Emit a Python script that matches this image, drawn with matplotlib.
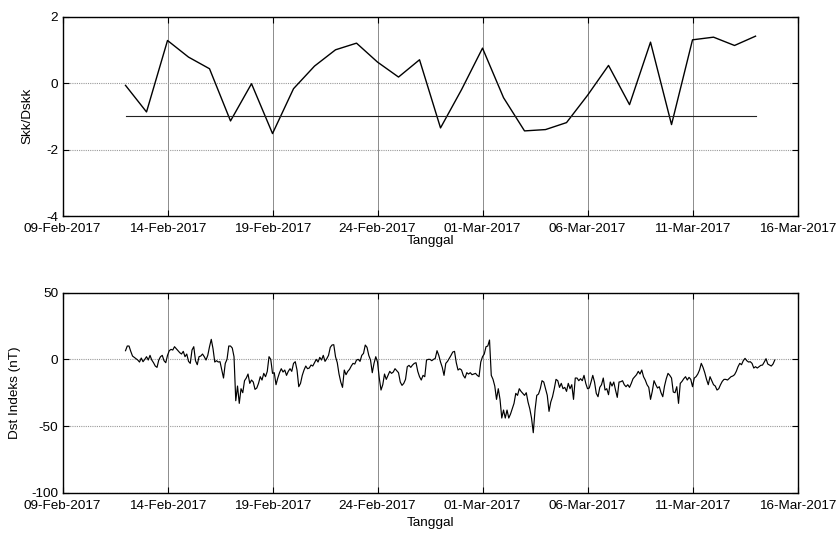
import matplotlib
matplotlib.use('Agg')
import matplotlib.pyplot as plt
import pandas as pd

plt.rcParams['font.family'] = ['Liberation Sans', 'DejaVu Sans']

# ---------------- data ----------------
skk_start = '2017-02-12'
skk_values = [-0.07, -0.87, 1.28, 0.78, 0.43, -1.14, -0.02, -1.52, -0.17, 0.51,
              1.0, 1.2, 0.63, 0.18, 0.70, -1.35, -0.2, 1.05, -0.44, -1.44,
              -1.40, -1.19, -0.37, 0.53, -0.65, 1.23, -1.25, 1.30, 1.38, 1.13, 1.41]
threshold = -1.0

dst_start = '2017-02-12'
dst_step = '2h'
dst_feb12_18 = [
    6.5, 10, 10, 6, 2.5, 1.5, 0.5, -0.5, -2, 1, -1.75, 0,
    2, -0.5, 3, -0.5, -2.5, -5, -6, -0.5, 2, 3, -1, -2.5,
    3, 6.5, 7.5, 7, 9.5, 8, 6.5, 5, 4, 6, 2, 4,
    -1.5, -3, 7, 9.5, -1, -4, 2, 2.5, 4, 2, -0.5, 3,
    9.5, 15, 8, -2, -1, -2, -1.75, -8, -14, -3, 0, 10,
    10, 8.5, 2, -31, -20, -33, -22, -25, -16, -14, -11, -18,
    -15.5, -17, -22.5, -21.5, -18, -13, -15.5, -10.5, -13, -9, 2, 0,
]
dst_feb19_25 = [
    -10.5, -10, -19, -14, -10, -7, -9.5, -8, -12, -9, -7, -9,
    -3, -1.75, -8, -20.5, -18, -12, -8, -5, -7, -6.5, -4.25, -5,
    -2.5, 0, -2, 1.5, -0.5, 3, -1.5, 0.5, 3, 9, 10.75, 11,
    2, -2.5, -11, -17, -21, -8, -11.5, -9, -7.5, -5, -3, -3.5,
    -0.5, 0, -1.5, 3, 4.5, 10.75, 9, 3, -0.5, -10, -3, 2,
    -2, -14, -23, -19, -11, -15, -12, -9, -10.5, -9.5, -7, -8.5,
    -10, -17, -19.5, -18, -15, -5.5, -4.5, -6, -4.25, -3, -2.5, -9,
]
dst_feb26_mar04 = [
    -13, -15.5, -12, -13, -0.5, 0, 0, -1, 0, 0.75, 6.5, 3,
    -2, -6, -12, -3, -1.5, 0.75, 3, 5.5, 6, -2.5, -8, -7,
    -8, -12, -14, -10, -11, -10, -11.5, -11, -10.5, -12, -13, -2,
    2, 4, 9.5, 10, 14.5, -12, -15, -20, -30, -22, -30, -44,
    -38, -44, -38, -44, -41, -37, -33, -25.5, -27, -22, -24, -25.5,
    -27, -25, -32, -37, -44, -55, -38, -27, -26, -22, -16, -17,
    -22, -27, -39, -32, -28, -22, -15, -16, -21, -18, -22, -21,
]
dst_mar05_11 = [
    -24, -18, -22, -19, -30, -14, -14, -16, -14.5, -16, -12, -18,
    -22, -21.5, -17, -12, -17, -25.5, -28, -21, -19, -14, -23, -22,
    -26.5, -17, -20, -17, -23, -28.5, -17, -16.75, -16, -19, -20.5, -19,
    -21, -18, -14.5, -13, -11.5, -9, -11, -8, -13, -15.5, -19, -21,
    -30, -24, -16, -19, -21.5, -20.5, -25, -28, -20, -14.5, -10.5, -12,
    -14, -24.5, -25, -20.5, -33, -18, -16.5, -14.5, -13, -15.5, -13.5, -15,
    -20.5, -14, -13, -11, -8, -3, -6, -10, -15, -19, -13, -16,
]
dst_mar12_14 = [
    -19, -20, -23, -22, -19, -16.5, -15, -15, -15.5, -14.25, -13, -12.5,
    -11.5, -9, -5.5, -3, -4, -1, 0.75, -1, -2, -1.75, -3, -6.5,
    -5.5, -6.5, -5.5, -4.5, -4.25, -2, 0.5, -3.5, -4.25, -5, -3.5, -0.5,
]

x_start = '2017-02-09'
x_end = '2017-03-16'
x_tick_labels = ['09-Feb-2017', '14-Feb-2017', '19-Feb-2017', '24-Feb-2017',
                 '01-Mar-2017', '06-Mar-2017', '11-Mar-2017', '16-Mar-2017']

# ---------------- build ----------------
skk_dates = pd.date_range(skk_start, periods=len(skk_values), freq='D')
dst_values = dst_feb12_18 + dst_feb19_25 + dst_feb26_mar04 + dst_mar05_11 + dst_mar12_14
dst_times = pd.date_range(dst_start, periods=len(dst_values), freq=dst_step)
tick_dates = pd.to_datetime(x_tick_labels, format='%d-%b-%Y')

fig = plt.figure(figsize=(8.38, 5.34), dpi=100)
ax1 = fig.add_axes([0.0746, 0.5955, 0.8771, 0.3735])
ax2 = fig.add_axes([0.0746, 0.0773, 0.8771, 0.3746])

FS = 9.7

def style(ax, yticks, ylabel, xlabel_pad, ylabel_x):
    ax.set_xlim(pd.Timestamp(x_start), pd.Timestamp(x_end))
    ax.set_xticks(tick_dates)
    ax.set_xticklabels(x_tick_labels, fontsize=FS)
    ax.set_yticks(yticks)
    ax.set_yticklabels([str(v) for v in yticks], fontsize=FS)
    ax.set_ylim(yticks[0], yticks[-1])
    ax.tick_params(direction='in', length=4, width=0.8, top=True, right=True,
                   colors='black')
    ax.tick_params(axis='x', pad=5)
    ax.tick_params(axis='y', pad=3)
    ax.xaxis.grid(True, color='#8c8c8c', lw=0.7, ls='-')
    ax.yaxis.grid(True, color='#9a9a9a', lw=0.8, ls=(0, (1, 1)))
    ax.set_axisbelow(True)
    for s in ax.spines.values():
        s.set_linewidth(1.0)
        s.set_color('black')
    ax.set_xlabel('Tanggal', fontsize=FS, labelpad=xlabel_pad)
    ax.set_ylabel(ylabel, fontsize=FS)
    ax.yaxis.set_label_coords(ylabel_x, 0.5)

ax1.plot(skk_dates, skk_values, color='black', lw=1.0)
ax1.plot(skk_dates, [threshold] * len(skk_dates), color='#222222', lw=0.8)
style(ax1, [-4, -2, 0, 2], 'Skk/Dskk', 0, -0.039)

ax2.plot(dst_times, dst_values, color='black', lw=0.85)
style(ax2, [-100, -50, 0, 50], 'Dst Indeks (nT)', 4, -0.056)

fig.savefig('out.png', dpi=100)
